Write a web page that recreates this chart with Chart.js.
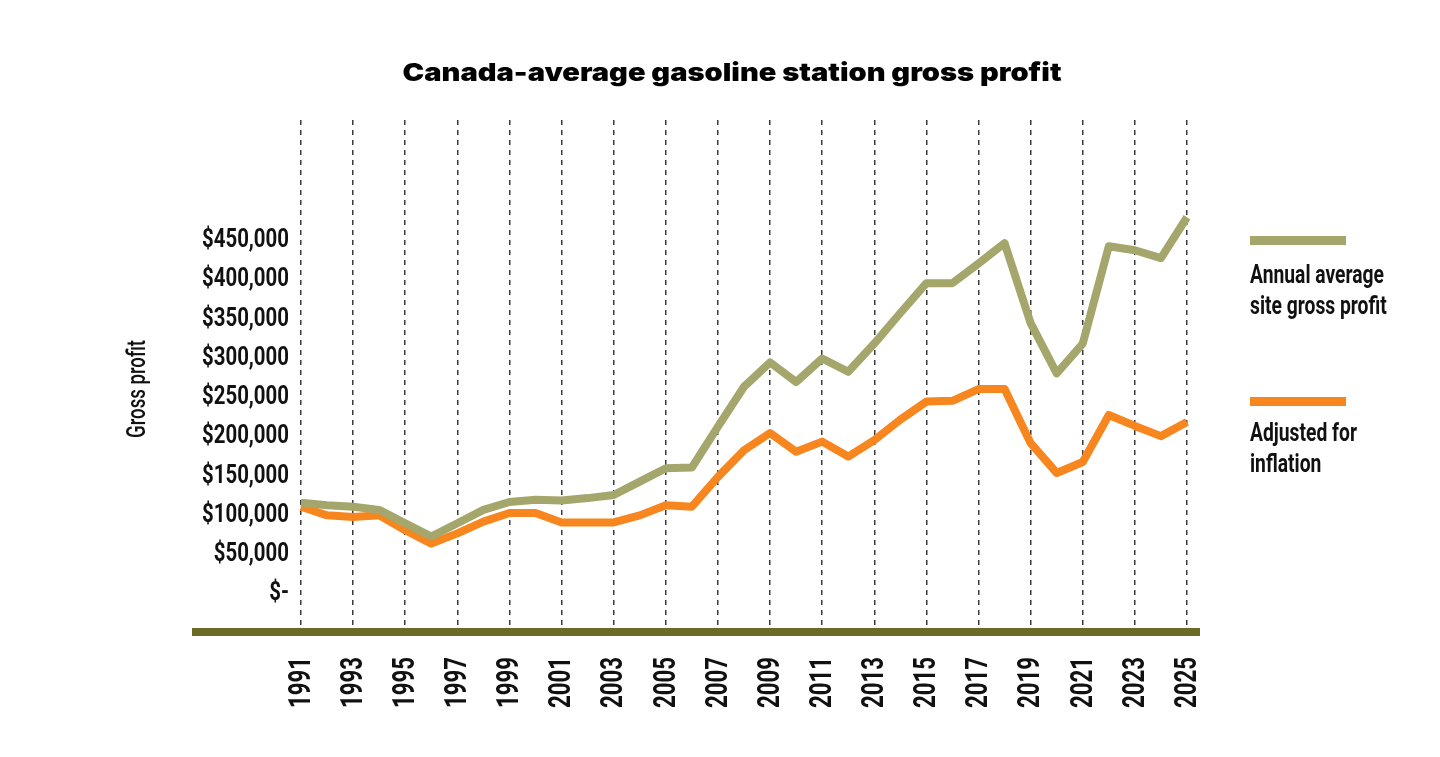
<!DOCTYPE html>
<html>
<head>
<meta charset="utf-8">
<script src="https://cdn.jsdelivr.net/npm/chart.js@4"></script>
<style>
  body { margin: 0; background: #fff; }
  #wrap { position: relative; width: 1440px; height: 757px; overflow: hidden; }
  #chart { position: absolute; left: 0; top: 0; }
  .title { position: absolute; left: 732px; top: 57px; line-height: 30px; white-space: nowrap;
    font-family: Inter, "DejaVu Sans", sans-serif; font-weight: 900; font-size: 25px; color: #000; }
  .ytitle { position: absolute; left: 137px; top: 389px; width: 0; height: 0; }
  .ytitle span { position: absolute; left: 0; top: 0; white-space: nowrap; line-height: 26px;
    font-family: Roboto, sans-serif; font-weight: 500; font-size: 25px; color: #111; }
  .leg-line { position: absolute; left: 1250px; width: 96px; height: 9px; }
  .leg-text { position: absolute; left: 1250px; white-space: nowrap; transform-origin: 0 0;
    font-family: Roboto, sans-serif; font-weight: bold; font-size: 26px; line-height: 31px; color: #111; }
</style>
</head>
<body>
<div id="wrap">
  <canvas id="chart" width="1440" height="757"></canvas>
  <div class="title" id="title">Canada-average gasoline station gross profit</div>
  <div class="ytitle"><span id="ytitle">Gross profit</span></div>
  <div class="leg-line" style="top:236px;background:#a4a66c"></div>
  <div class="leg-text" style="top:259px">Annual average</div>
  <div class="leg-text" style="top:290px">site gross profit</div>
  <div class="leg-line" style="top:397px;background:#f7861f"></div>
  <div class="leg-text" style="top:417px">Adjusted for</div>
  <div class="leg-text" style="top:448px">inflation</div>
</div>
<script>
const years = ['1991', '1992', '1993', '1994', '1995', '1996', '1997', '1998', '1999', '2000',
  '2001', '2002', '2003', '2004', '2005', '2006', '2007', '2008', '2009', '2010',
  '2011', '2012', '2013', '2014', '2015', '2016', '2017', '2018', '2019', '2020',
  '2021', '2022', '2023', '2024', '2025'];

const grossProfit = [115000, 112000, 110000, 106000, 89000, 72000, 89000, 106000, 116000, 119000,
  118000, 121000, 125000, 142000, 159000, 160000, 212000, 263000, 294000, 269000,
  299000, 282000, 318000, 357000, 395000, 395000, 420000, 446000, 344000, 280000,
  318000, 442000, 437000, 427000, 479000];

const adjustedProfit = [110000, 99000, 97000, 99000, 80000, 63000, 76000, 91000, 102000, 102000,
  90000, 90000, 90000, 99000, 112000, 110000, 148000, 182000, 204000, 180000,
  193000, 174000, 195000, 221000, 244000, 245000, 260000, 260000, 191000, 153000,
  167000, 227000, 213000, 200000, 218000];

const yTicks = [0, 50000, 100000, 150000, 200000, 250000, 300000, 350000, 400000, 450000];

function money(v) {
  return v === 0 ? '$-' : '$' + v.toLocaleString('en-US');
}

// squeeze the condensed-looking texts to the widths seen in the reference
const titleEl = document.getElementById('title');
const tw = titleEl.getBoundingClientRect().width;
titleEl.style.transform = `translateX(-50%) scaleX(${659 / tw})`;

const legTexts = document.querySelectorAll('.leg-text');
const legScale = 134 / legTexts[0].getBoundingClientRect().width;
legTexts.forEach(el => { el.style.transform = `scaleX(${legScale})`; });

const yt = document.getElementById('ytitle');
const ytw = yt.getBoundingClientRect().width;
yt.style.transform = `translate(-50%, -50%) rotate(-90deg) scaleX(${98 / ytw})`;

// thick olive baseline under the plot
const baseline = {
  id: 'baseline',
  afterDraw(chart) {
    const a = chart.chartArea;
    const c = chart.ctx;
    c.save();
    c.fillStyle = '#6b6a26';
    c.fillRect(a.left - 109, a.bottom, a.right - a.left + 122, 8);
    c.restore();
  }
};

// tick labels in a condensed look (canvas text squeezed horizontally)
const condensedTicks = {
  id: 'condensedTicks',
  afterDraw(chart) {
    const c = chart.ctx;
    const a = chart.chartArea;
    const xs = chart.scales.x;
    const ys = chart.scales.y;
    c.save();
    c.fillStyle = '#111';

    c.font = 'bold 25px Roboto, sans-serif';
    const sy = 87 / c.measureText('$450,000').width;
    c.textAlign = 'right';
    c.textBaseline = 'middle';
    ys.ticks.forEach(t => {
      c.save();
      c.translate(a.left - 12, ys.getPixelForValue(t.value));
      c.scale(sy, 1);
      c.fillText(money(t.value), 0, 1);
      c.restore();
    });

    c.font = 'bold 31px Roboto, sans-serif';
    const sx = 51 / c.measureText('2009').width;
    years.forEach((yr, i) => {
      if (i % 2 !== 0) return;
      c.save();
      c.translate(xs.getPixelForValue(i) + 1, a.bottom + 29);
      c.rotate(-Math.PI / 2);
      c.scale(sx, 1);
      c.fillText(yr, 0, 0);
      c.restore();
    });
    c.restore();
  }
};

new Chart(document.getElementById('chart'), {
  type: 'line',
  data: {
    labels: years,
    datasets: [
      {
        label: 'Annual average site gross profit',
        data: grossProfit,
        borderColor: '#a4a66c',
        borderWidth: 8,
        pointRadius: 0,
        tension: 0,
        borderJoinStyle: 'round'
      },
      {
        label: 'Adjusted for inflation',
        data: adjustedProfit,
        borderColor: '#f7861f',
        borderWidth: 8,
        pointRadius: 0,
        tension: 0,
        borderJoinStyle: 'round'
      }
    ]
  },
  options: {
    responsive: false,
    animation: false,
    layout: { padding: { top: 120, right: 253, left: 0, bottom: 0 } },
    plugins: {
      legend: { display: false },
      title: { display: false },
      tooltip: { enabled: false }
    },
    scales: {
      x: {
        offset: false,
        afterFit: (axis) => { axis.height = 129; },
        grid: {
          color: (ctx) => (ctx.index % 2 === 0 ? '#3a3a3a' : 'rgba(0,0,0,0)'),
          lineWidth: 1.5,
          drawTicks: false
        },
        border: { display: false, dash: [5, 5] },
        ticks: { display: false, autoSkip: false }
      },
      y: {
        min: -44600,
        max: 603000,
        afterFit: (axis) => { axis.width = 301; },
        afterBuildTicks: (axis) => { axis.ticks = yTicks.map(v => ({ value: v })); },
        grid: { display: false },
        border: { display: false },
        ticks: { display: false }
      }
    }
  },
  plugins: [baseline, condensedTicks]
});
</script>
</body>
</html>
